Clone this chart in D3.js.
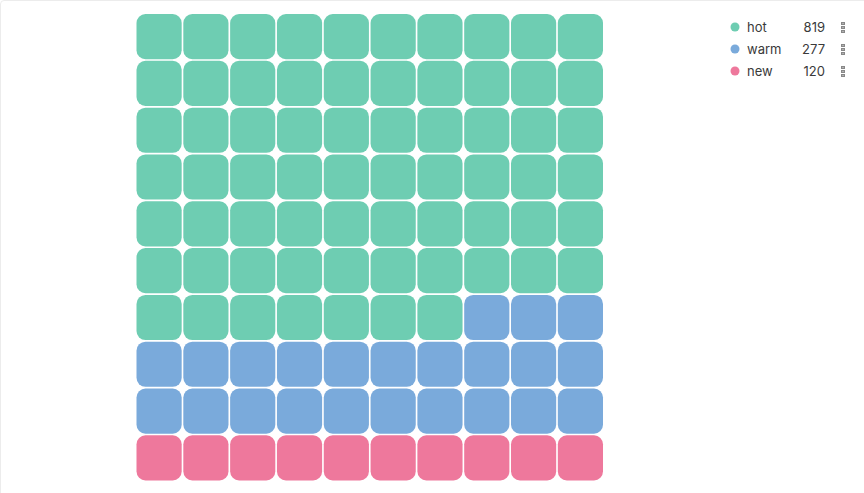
<!DOCTYPE html>
<html><head><meta charset="utf-8">
<script src="https://cdn.jsdelivr.net/npm/d3@7"></script>
<style>
html,body{margin:0;padding:0;background:#fff;overflow:hidden;}
#card{position:absolute;left:0;top:0;width:900px;height:520px;border:1px solid #ececec;border-radius:4px;box-sizing:border-box;}
svg{position:absolute;left:0;top:0;}
text{font-family:Inter,"Noto Sans",sans-serif;}
</style></head><body>
<div id="card"></div>
<svg id="chart" width="864" height="493"></svg>
<script>
const categories = ["hot", "warm", "new"];
const values = [819, 277, 120];
const colors = ["#6ecdb2", "#7aaadb", "#ee789c"];

const svg = d3.select("#chart");
const total = d3.sum(values);
const nCells = 100, cols = 10, rows = 10;
// largest remainder allocation
let raw = values.map(v => v / total * nCells);
let counts = raw.map(Math.floor);
let rem = nCells - d3.sum(counts);
raw.map((r, i) => [r - Math.floor(r), i]).sort((a, b) => b[0] - a[0]).slice(0, rem).forEach(d => counts[d[1]]++);
const cells = [];
counts.forEach((c, i) => { for (let k = 0; k < c; k++) cells.push(i); });

const x = d3.scaleBand().domain(d3.range(cols)).range([136.5, 603]).paddingInner(0.035).paddingOuter(0);
const y = d3.scaleBand().domain(d3.range(rows)).range([14, 480.5]).paddingInner(0.035).paddingOuter(0);

svg.append("g").selectAll("rect").data(cells).join("rect")
  .attr("x", (d, i) => x(i % cols))
  .attr("y", (d, i) => y(Math.floor(i / cols)))
  .attr("width", x.bandwidth())
  .attr("height", y.bandwidth())
  .attr("rx", 9).attr("ry", 9)
  .attr("fill", d => colors[d]);

const legY = d3.scalePoint().domain(categories).range([27, 71]);
const leg = svg.append("g").selectAll("g").data(categories).join("g")
  .attr("transform", d => `translate(0,${legY(d)})`);
leg.append("circle").attr("cx", 735).attr("cy", 0).attr("r", 4.5).attr("fill", (d, i) => colors[i]);
leg.append("text").attr("x", 747).attr("y", 0).attr("dy", "0.35em")
  .attr("font-size", 13).attr("fill", "#3a3a3a").text(d => d);
leg.append("text").attr("x", 825).attr("y", 0).attr("dy", "0.35em").attr("text-anchor", "end")
  .attr("font-size", 13).attr("fill", "#3a3a3a").text((d, i) => values[i]);
leg.each(function () {
  const g = d3.select(this);
  [-5, -1, 3].forEach(dy => g.append("rect").attr("x", 841.5).attr("y", dy + 0.5).attr("width", 3).attr("height", 2)
    .attr("fill", "#b0b0b0").attr("stroke", "#888").attr("stroke-width", 1));
});
</script>
</body></html>
